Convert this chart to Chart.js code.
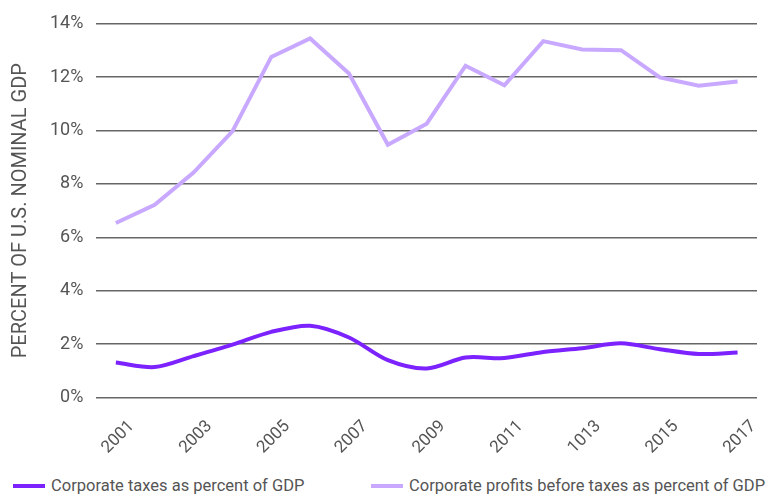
<!DOCTYPE html>
<html>
<head>
<meta charset="utf-8">
<script src="https://cdn.jsdelivr.net/npm/chart.js@4"></script>
<style>
  html, body { margin: 0; padding: 0; background: #fff; }
  .wrap { position: relative; width: 777px; height: 499px; }
  .chart-box { position: absolute; left: 0; top: 0; width: 777px; height: 469px; }
  .legend { position: absolute; left: 0; top: 476px; width: 777px; height: 22px; margin: 0; padding: 0; list-style: none;
    font-family: "Roboto", sans-serif; font-size: 16.5px; color: #555; }
  .legend li { position: absolute; top: 0; display: flex; align-items: center; white-space: nowrap; }
  .legend .swatch { display: inline-block; width: 32px; height: 4px; margin-right: 6px; }
</style>
</head>
<body>
<div class="wrap">
  <div class="chart-box"><canvas id="chart"></canvas></div>
  <ul class="legend"></ul>
</div>
<script>
const years = ["2001","2002","2003","2004","2005","2006","2007","2008","2009","2010","2011","2012","1013","2014","2015","2016","2017"];
const tickLabels = ["2001","2003","2005","2007","2009","2011","1013","2015","2017"];
const taxes = [1.31,1.14,1.55,1.98,2.46,2.69,2.25,1.40,1.09,1.50,1.48,1.71,1.85,2.03,1.81,1.63,1.69];
const profits = [6.54,7.22,8.43,9.97,12.76,13.45,12.14,9.47,10.26,12.43,11.70,13.35,13.04,13.01,11.99,11.68,11.84];
const seriesNames = ["Corporate taxes as percent of GDP","Corporate profits before taxes as percent of GDP"];
const seriesColors = ["#7b22ff","#c8a9ff"];
const legendLeft = [13, 371];

const font = "'Roboto', sans-serif";

// nudge the rotated year labels so they sit like the original
const shiftTicks = {
    id:"shiftTicks",
    beforeDraw(chart){
        chart.scales.x.getLabelItems().forEach(it => {
            if (!it._shifted) {
                it.options.translation[0] += 16;
                it._shifted = true;
            }
        });
    },
};

const ctx = document.getElementById("chart");
const chart = new Chart(ctx, {
    type:"line",
    data:{
        labels: years,
        datasets:[
            {
                label: seriesNames[0],
                data: taxes,
                borderColor: seriesColors[0],
                backgroundColor: seriesColors[0],
                borderWidth: 4,
                pointRadius: 0,
                tension: 0.3,
            },
            {
                label: seriesNames[1],
                data: profits,
                borderColor: seriesColors[1],
                backgroundColor: seriesColors[1],
                borderWidth: 4,
                pointRadius: 0,
                tension: 0,
            },
        ],
    },
    plugins:[shiftTicks],
    options:{
        responsive: true,
        maintainAspectRatio: false,
        animation: false,
        layout:{ padding:{ top: 14, right: 20, left: 9, bottom: 0 } },
        plugins:{
            legend:{ display:false },
            tooltip:{ enabled:false },
        },
        scales:{
            x:{
                offset: true,
                grid:{ display:false },
                border:{ display:false },
                ticks:{
                    autoSkip:false,
                    minRotation:45,
                    maxRotation:45,
                    color:"#555",
                    font:{ family: font, size: 17 },
                    padding: 11,
                    callback:(v,i)=> tickLabels.includes(years[i]) ? years[i] : "",
                },
            },
            y:{
                min:0,
                max:14,
                grid:{ color:"#666", lineWidth:1.5, drawTicks:false },
                border:{ display:false },
                ticks:{
                    stepSize:2,
                    color:"#555",
                    padding:13,
                    font:{ family: font, size: 18 },
                    callback:(v)=> v + "%",
                },
                title:{
                    display:true,
                    text:"PERCENT OF U.S. NOMINAL GDP",
                    color:"#555",
                    font:{ family: font, size: 20 },
                    padding:{ top:0, bottom:4 },
                },
            },
        },
    },
});

const ul = document.querySelector(".legend");
const populateLegend = ()=>{
    chart.data.datasets.forEach((d,i) => {
        let li = document.createElement("li");
        li.style.left = legendLeft[i] + "px";
        li.innerHTML = `<span class='swatch' style='background:${d.borderColor}'></span>${d.label}`;
        ul.appendChild(li);
    });
};
populateLegend();
</script>
</body>
</html>
